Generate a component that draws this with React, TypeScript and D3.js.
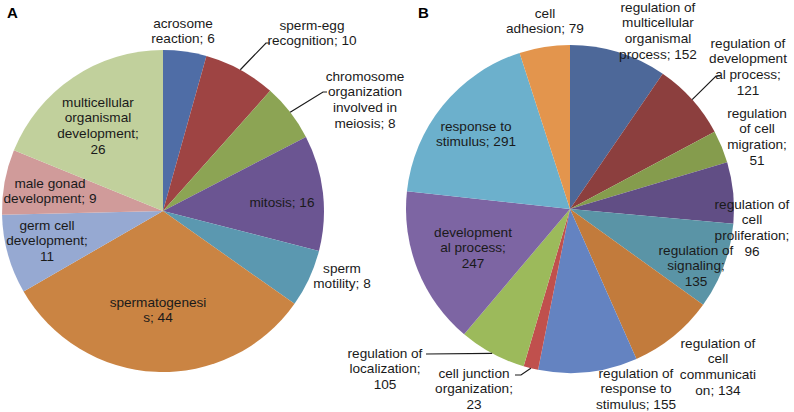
import React from "react";
import * as d3 from "d3";

// chart A: GO terms, testis
const categoriesA = [
  "acrosome\nreaction",
  "sperm-egg\nrecognition",
  "chromosome\norganization\ninvolved in\nmeiosis",
  "mitosis",
  "sperm\nmotility",
  "spermatogenesi\ns",
  "germ cell\ndevelopment",
  "male gonad\ndevelopment",
  "multicellular\norganismal\ndevelopment",
];
const valuesA = [6, 10, 8, 16, 8, 44, 11, 9, 26];
const colorsA = ["#4f6da6", "#9e4443", "#8ca454", "#6b5592", "#5b98b0", "#ca8443", "#96a9d2", "#d09b9a", "#c1d09c"];

// chart B
const categoriesB = [
  "regulation of\nmulticellular\norganismal\nprocess",
  "regulation of\ndevelopment\nal process",
  "regulation\nof cell\nmigration",
  "regulation of\ncell\nproliferation",
  "regulation of\nsignaling",
  "regulation of\ncell\ncommunicati\non",
  "regulation of\nresponse to\nstimulus",
  "cell junction\norganization",
  "regulation of\nlocalization",
  "development\nal process",
  "response to\nstimulus",
  "cell\nadhesion",
];
const valuesB = [152, 121, 51, 96, 135, 134, 155, 23, 105, 247, 291, 79];
const colorsB = ["#4d6899", "#8c3f3e", "#859c4d", "#614e85", "#5a94a6", "#c27b3c", "#6483c1", "#c0504d", "#9cba5b", "#7d65a3", "#6cb0cc", "#e3954d"];

// label layout: [x, y of first line, value on own line, leader tick x (or null)]
type LabelPos = [number, number, boolean, number | null];
const labelsA: LabelPos[] = [
  [183, 23, false, null],
  [312, 25, false, 266],
  [365, 76, false, 323],
  [282, 202, false, null],
  [342, 268, false, null],
  [158, 302, false, null],
  [47, 225, true, null],
  [50, 183, false, null],
  [98, 102, true, null],
];
const labelsB: LabelPos[] = [
  [658, 7, false, null],
  [748, 43, true, 716],
  [757, 113, true, null],
  [752, 204, true, null],
  [696, 250, true, null],
  [718, 343, false, null],
  [636, 373, false, null],
  [474, 373, true, 521],
  [385, 353, true, 426],
  [473, 232, true, null],
  [476, 126, false, null],
  [545, 13, false, null],
];
// y of each leader's horizontal tick
const leaderYA = [null, 43, 92, null, null, null, null, null, null];
const leaderYB = [null, 76, null, null, null, null, null, 375, 354, null, null, null];

const fontSize = 13.6;
const lineH = 15.7;

function Pie(props: {
  cx: number; cy: number; r: number; cats: string[]; vals: number[]; colors: string[];
  labels: LabelPos[]; leaderY: (number | null)[]; tick: number[];
}) {
  const { cx, cy, r, cats, vals, colors, labels, leaderY } = props;
  const pie = d3.pie<number>().sort(null).value((d) => d);
  const arcs = pie(vals);
  const arc = d3.arc<d3.PieArcDatum<number>>().innerRadius(0).outerRadius(r);
  return (
    <g>
      {arcs.map((a, i) => (
        <path key={i} d={arc(a) || ""} transform={`translate(${cx},${cy})`} fill={colors[i]} />
      ))}
      {arcs.map((a, i) => {
        const tickX = labels[i][3];
        const ty = leaderY[i];
        if (tickX == null || ty == null) return null;
        const mid = (a.startAngle + a.endAngle) / 2;
        const ex = cx + r * Math.sin(mid);
        const ey = cy - r * Math.cos(mid);
        const sx = tickX + props.tick[i];
        return (
          <polyline key={"l" + i} points={`${sx},${ty} ${tickX},${ty} ${ex},${ey}`}
            fill="none" stroke="#1a1a1a" strokeWidth={1.2} />
        );
      })}
      {cats.map((c, i) => {
        const [lx, ly, brk] = labels[i];
        const lines = (c + ";" + (brk ? "\n" : " ") + vals[i]).split("\n");
        return (
          <text key={"t" + i} x={lx} y={ly} textAnchor="middle" fontSize={fontSize} fill="#1a1a1a">
            {lines.map((s, j) => (
              <tspan key={j} x={lx} y={ly + j * lineH} dy="0.35em">{s}</tspan>
            ))}
          </text>
        );
      })}
    </g>
  );
}

export default function App() {
  return (
    <div style={{ position: "absolute", left: 0, top: 0 }}>
      <svg width={794} height={412} style={{ display: "block", fontFamily: "'Liberation Sans', Arial, sans-serif" }}>
        <rect width={794} height={412} fill="#fff" />
        <Pie cx={163} cy={211} r={161} cats={categoriesA} vals={valuesA} colors={colorsA}
          labels={labelsA} leaderY={leaderYA} tick={[0, 4, 4, 0, 0, 0, 0, 0, 0]} />
        <Pie cx={570} cy={209} r={164} cats={categoriesB} vals={valuesB} colors={colorsB}
          labels={labelsB} leaderY={leaderYB} tick={[0, 4, 0, 0, 0, 0, 0, -6, 0, 0, 0, 0]} />
        <text x={7} y={18} fontSize={15} fontWeight="bold">A</text>
        <text x={418} y={18} fontSize={15} fontWeight="bold">B</text>
      </svg>
    </div>
  );
}
